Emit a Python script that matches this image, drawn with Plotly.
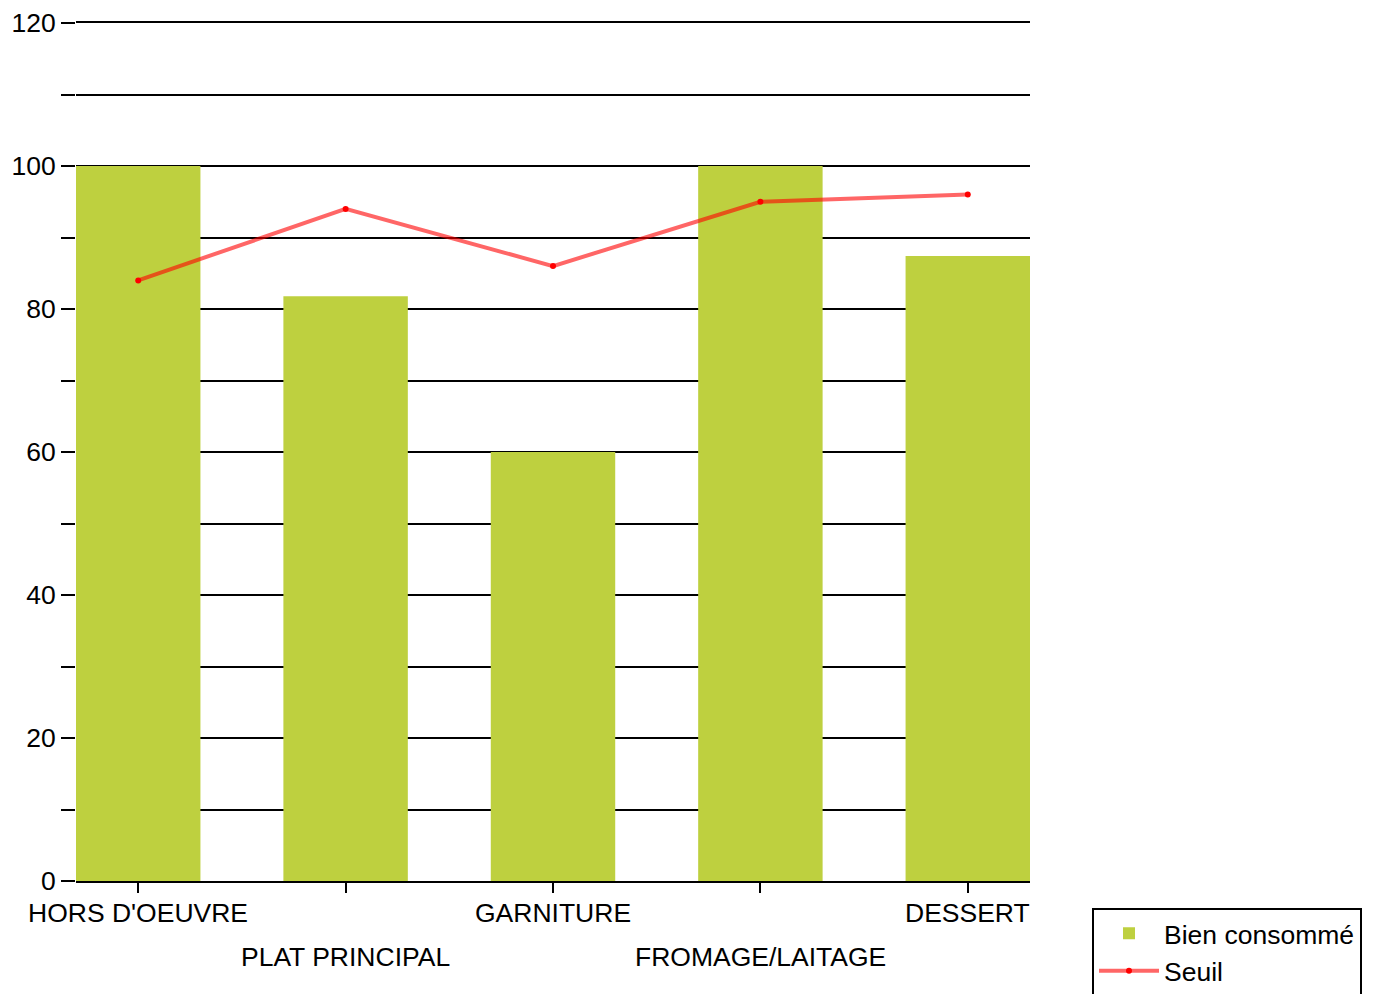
import plotly.graph_objects as go

categories = ["HORS D'OEUVRE", "PLAT PRINCIPAL", "GARNITURE", "FROMAGE/LAITAGE", "DESSERT"]
bien_consomme = [100, 81.8, 60, 100, 87.4]
seuil = [84, 94, 86, 95, 96]
y_tickvals = [0, 20, 40, 60, 80, 100, 120]

FONT = "Liberation Sans, Arial, sans-serif"
FS = 26.5

fig = go.Figure()
fig.add_trace(go.Bar(
    x=categories, y=bien_consomme, name="Bien consommé",
    marker=dict(color="#BED03F", line=dict(width=0)),
    width=0.6,
))
fig.add_trace(go.Scatter(
    x=categories, y=seuil, name="Seuil", mode="lines+markers",
    line=dict(color="rgba(255,0,0,0.6)", width=4),
    marker=dict(color="red", size=6),
))

for i, c in enumerate(categories):
    fig.add_annotation(
        x=c, xref="x", y=0, yref="paper", yanchor="middle",
        yshift=-32 if i % 2 == 0 else -76,
        text=c, showarrow=False,
        font=dict(family=FONT, size=FS, color="black"),
    )

fig.update_layout(
    width=1389, height=994,
    margin=dict(l=68, r=367, t=15, b=121, autoexpand=False),
    paper_bgcolor="white", plot_bgcolor="white",
    font=dict(family=FONT, size=FS, color="black"),
    showlegend=True,
    legend=dict(
        x=1.065, y=-0.031, xanchor="left", yanchor="top",
        bordercolor="black", borderwidth=2,
        font=dict(family=FONT, size=FS, color="black"),
        itemwidth=60, tracegroupgap=0,
        entrywidth=320, entrywidthmode="pixels",
    ),
    xaxis=dict(
        type="category", range=[-0.3, 4.3], automargin=False,
        showgrid=False, showline=True, linecolor="black", linewidth=2, mirror=True,
        ticks="outside", ticklen=10, tickcolor="black", tickwidth=2,
        showticklabels=False, zeroline=False,
    ),
    yaxis=dict(
        range=[0, 120], tickvals=y_tickvals, automargin=False,
        showgrid=True, gridcolor="black", gridwidth=2,
        ticks="outside", ticklen=14, tickcolor="black", tickwidth=2,
        showline=False, zeroline=False,
        tickfont=dict(family=FONT, size=FS, color="black"),
        minor=dict(dtick=10, tick0=0, showgrid=True, gridcolor="black", gridwidth=2,
                   ticks="outside", ticklen=14, tickcolor="black", tickwidth=2),
    ),
)

fig.write_html("out.html")
